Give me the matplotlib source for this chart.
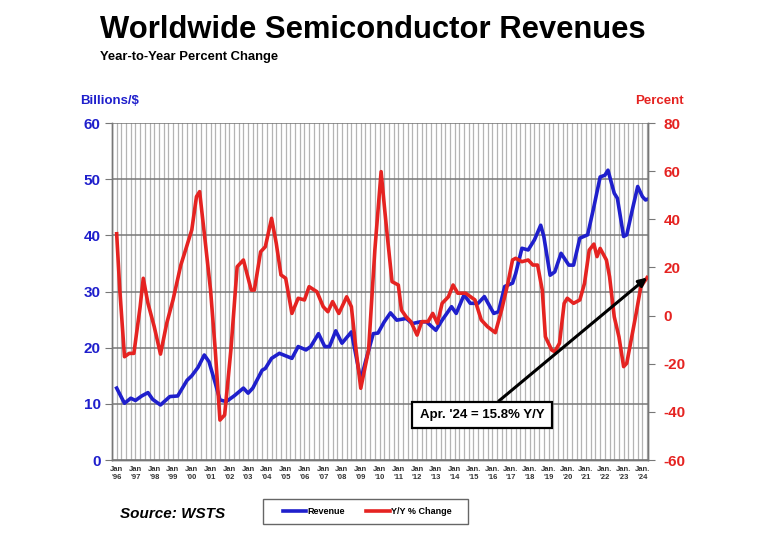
import numpy as np
import matplotlib
matplotlib.use("Agg")
import matplotlib.pyplot as plt
from matplotlib.patches import Rectangle

plt.rcParams['font.family'] = ['Liberation Sans', 'DejaVu Sans']
plt.rcParams['axes.unicode_minus'] = False

# revenue, billions of dollars (3 month moving average)
rev_months = ["1996-01", "1996-06", "1996-10", "1997-01", "1997-05", "1997-09", "1997-12",
              "1998-05", "1998-11", "1999-04", "1999-10", "2000-01", "2000-05", "2000-09",
              "2000-12", "2001-04", "2001-07", "2001-11", "2002-04", "2002-10", "2003-01",
              "2003-04", "2003-10", "2003-12", "2004-04", "2004-09", "2005-05", "2005-09",
              "2006-02", "2006-05", "2006-10", "2007-02", "2007-05", "2007-09", "2008-01",
              "2008-07", "2009-01", "2009-04", "2009-09", "2009-12", "2010-04", "2010-08",
              "2010-12", "2011-06", "2011-10", "2012-03", "2012-07", "2013-01", "2013-05",
              "2013-11", "2014-02", "2014-07", "2014-11", "2015-04", "2015-08", "2016-02",
              "2016-05", "2016-09", "2017-02", "2017-04", "2017-08", "2017-12", "2018-04",
              "2018-08", "2018-10", "2019-02", "2019-05", "2019-09", "2020-02", "2020-05",
              "2020-09", "2021-02", "2021-06", "2021-10", "2022-01", "2022-03", "2022-07",
              "2022-09", "2023-01", "2023-03", "2023-07", "2023-10", "2024-01", "2024-03",
              "2024-04"]
rev_values = [12.8, 10.1, 11.0, 10.6, 11.4, 12.0, 10.8,
              9.8, 11.3, 11.4, 14.2, 15.0, 16.5, 18.7,
              17.5, 13.7, 10.7, 10.4, 11.4, 12.8, 11.9,
              12.8, 16.0, 16.3, 18.1, 19.0, 18.1, 20.2,
              19.6, 20.2, 22.5, 20.2, 20.2, 23.0, 20.8,
              22.8, 14.2, 17.5, 22.5, 22.6, 24.6, 26.2,
              24.9, 25.2, 24.3, 24.6, 24.6, 23.1, 24.9,
              27.3, 26.1, 29.4, 27.9, 27.9, 29.1, 26.1,
              26.4, 30.9, 31.5, 33.2, 37.7, 37.4, 39.2,
              41.8, 39.8, 32.9, 33.5, 36.8, 34.7, 34.7,
              39.5, 40.1, 45.1, 50.4, 50.7, 51.6, 47.5,
              46.6, 39.8, 40.1, 45.1, 48.7, 46.9, 46.3,
              46.4]

# year to year change, percent
yoy_months = ["1996-01", "1996-03", "1996-06", "1996-09", "1996-12", "1997-04", "1997-06",
              "1997-09", "1998-01", "1998-05", "1998-09", "1999-01", "1999-06", "1999-09",
              "2000-01", "2000-04", "2000-06", "2000-09", "2001-01", "2001-04", "2001-07",
              "2001-10", "2002-02", "2002-06", "2002-10", "2003-03", "2003-05", "2003-09",
              "2003-12", "2004-04", "2004-07", "2004-10", "2005-01", "2005-05", "2005-09",
              "2006-01", "2006-04", "2006-09", "2007-01", "2007-04", "2007-07", "2007-11",
              "2008-04", "2008-07", "2008-10", "2009-01", "2009-06", "2009-10",
              "2010-02", "2010-04", "2010-06", "2010-09", "2011-01", "2011-03", "2011-06",
              "2011-09", "2012-01", "2012-04", "2012-08", "2012-11", "2013-02", "2013-05",
              "2013-09", "2013-12", "2014-03", "2014-08", "2015-02", "2015-06", "2015-10",
              "2016-03", "2016-07", "2016-11", "2017-02", "2017-04", "2017-08", "2017-12",
              "2018-03", "2018-06", "2018-09", "2018-11", "2019-03", "2019-05", "2019-08",
              "2019-11", "2020-01", "2020-05", "2020-09", "2020-12", "2021-03", "2021-06",
              "2021-08", "2021-10", "2022-02", "2022-04", "2022-07", "2022-10", "2023-01",
              "2023-03", "2023-07", "2023-09", "2023-12", "2024-04"]
yoy_values = [34.0, 10.6, -17.1, -15.7, -15.7, 3.7, 15.5,
              5.1, -4.6, -16.0, -3.2, 6.5, 21.0, 27.2,
              35.6, 49.4, 51.5, 34.2, 10.6, -14.3, -43.4,
              -41.3, -14.3, 20.3, 23.1, 10.6, 10.6, 26.5,
              28.6, 40.4, 30.0, 16.9, 15.5, 0.9, 7.2,
              6.5, 12.0, 9.9, 3.7, 1.6, 5.8, 0.9,
              7.8, 3.7, -14.3, -30.2, -14.3, 27.2,
              59.8, 46.0, 32.8, 14.1, 12.7, 2.3, -0.5,
              -2.5, -8.1, -2.5, -2.5, 0.9, -3.2, 5.1,
              7.8, 12.7, 9.3, 9.3, 6.5, -1.8, -4.6,
              -7.1, 2.3, 13.4, 23.1, 23.8, 22.4, 23.1,
              21.0, 21.0, 10.6, -8.8, -14.3, -15.0, -11.5,
              5.1, 7.2, 5.1, 6.5, 13.4, 27.2, 29.7,
              24.5, 27.9, 23.1, 16.2, -0.5, -8.8, -21.2,
              -19.8, -6.0, 0.9, 12.0, 15.8]

years = list(range(1996, 2025))
year_labels = [("Jan\n'%02d" if y < 2015 else "Jan.\n'%02d") % (y % 100) for y in years]

left_ticks = [0, 10, 20, 30, 40, 50, 60]
right_ticks = [-60, -40, -20, 0, 20, 40, 60, 80]


def to_year(s):
    y, m = s.split("-")
    return int(y) + (int(m) - 1) / 12


rev_x = [to_year(s) for s in rev_months]
yoy_x = [to_year(s) for s in yoy_months]

BLUE = "#1f1fcc"
RED = "#e52321"

fig = plt.figure(figsize=(7.68, 5.49), dpi=100)
ax = fig.add_axes([0.1458, 0.1621, 0.698, 0.6138])
ax2 = ax.twinx()

# quarterly vertical grid + horizontal grid
ax.set_xlim(1995.75, 2024.3)
ax.set_xticks(years)
ax.set_xticks(np.arange(1995.75, 2024.3, 0.25), minor=True)
ax.grid(True, which="minor", axis="x", color="#b4b4b4", lw=0.9)
ax.grid(True, which="major", axis="x", color="#b4b4b4", lw=0.9)
ax.grid(True, axis="y", color="#777777", lw=1.1)
ax.set_axisbelow(True)

ax.set_ylim(0, 60)
ax.set_yticks(left_ticks)
ax2.set_ylim(-60, 80)
ax2.set_yticks(right_ticks)

l1, = ax.plot(rev_x, rev_values, color=BLUE, lw=2.6, label="Revenue", zorder=3)
l2, = ax2.plot(yoy_x, yoy_values, color=RED, lw=2.6, label="Y/Y % Change", zorder=3)

ax.set_xticklabels(year_labels, fontsize=5.5, fontweight="bold", color="#333333", linespacing=1.3)
ax.tick_params(axis="x", which="both", length=0, pad=4)
ax.tick_params(axis="y", length=5, color="#777777", labelsize=11, labelcolor=BLUE, pad=3)
for t in ax.get_yticklabels():
    t.set_fontweight("bold")
ax2.tick_params(axis="y", length=5, color="#777777", labelsize=11, labelcolor=RED, pad=6)
for t in ax2.get_yticklabels():
    t.set_fontweight("bold")

for a in (ax, ax2):
    for sp in a.spines.values():
        sp.set_color("#777777")
        sp.set_linewidth(1.0)
    a.spines["top"].set_visible(False)

# annotation box with arrow to the last point
ax2.annotate("Apr. '24 = 15.8% Y/Y", xy=(yoy_x[-1], yoy_values[-1]),
             xytext=(482 / 768, 1 - 415 / 549), textcoords="figure fraction",
             ha="center", va="center", fontsize=9.5, fontweight="bold",
             bbox=dict(boxstyle="square,pad=0.55", fc="white", ec="black", lw=1.6),
             arrowprops=dict(arrowstyle="-|>", color="black", lw=2.2, mutation_scale=12,
                             shrinkA=0, shrinkB=0),
             zorder=5)

fig.text(100 / 768, 1 - 30 / 549, "Worldwide Semiconductor Revenues", fontsize=22.3,
         fontweight="bold", va="center", ha="left")
fig.text(100 / 768, 1 - 57 / 549, "Year-to-Year Percent Change", fontsize=9.4,
         fontweight="bold", va="center", ha="left")
fig.text(80 / 768, 1 - 101 / 549, "Billions/$", fontsize=9.5, fontweight="bold",
         color=BLUE, va="center", ha="left")
fig.text(684 / 768, 1 - 101 / 549, "Percent", fontsize=9.5, fontweight="bold",
         color=RED, va="center", ha="right")
fig.text(120 / 768, 1 - 514 / 549, "Source: WSTS", fontsize=11, fontweight="bold",
         style="italic", va="center", ha="left")

# legend box
fig.patches.append(Rectangle((263 / 768, 1 - 524 / 549), 205 / 768, 25 / 549,
                             transform=fig.transFigure, fc="white", ec="#666666", lw=1.0))
leg = fig.legend(handles=[l1, l2], loc="center", ncol=2,
                 bbox_to_anchor=(367 / 768, 1 - 512 / 549),
                 bbox_transform=fig.transFigure, prop={"weight": "bold", "size": 6.5},
                 frameon=False, handlelength=2.6, handletextpad=0.1, columnspacing=2.4)

fig.savefig("out.png", dpi=100)
